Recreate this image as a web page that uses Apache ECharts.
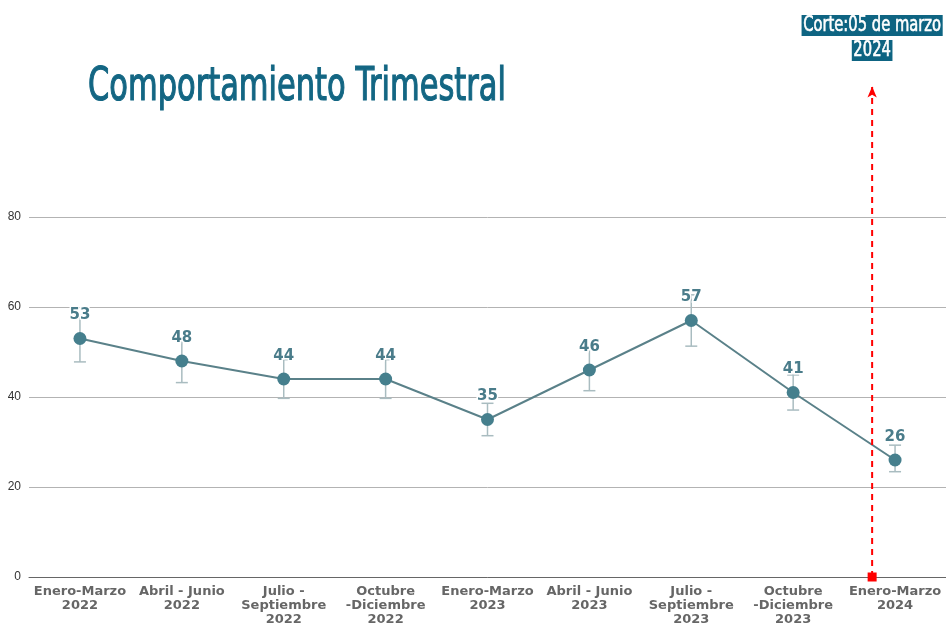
<!DOCTYPE html>
<html lang="es">
<head>
    <meta charset="UTF-8">
    <title>Comportamiento Trimestral</title>
    <script src="https://cdn.jsdelivr.net/npm/echarts@6.0.0/dist/echarts.min.js"></script>
    <style>
        body { margin: 0; background: #fff; }
        #chart { width: 946px; height: 625px; }
    </style>
</head>
<body>
    <div id="chart"></div>
    <script>
        // datos del gráfico
        const trimestres = [
            'Enero-Marzo\n2022', 'Abril - Junio\n2022', 'Julio -\nSeptiembre\n2022', 'Octubre\n-Diciembre\n2022',
            'Enero-Marzo\n2023', 'Abril - Junio\n2023', 'Julio -\nSeptiembre\n2023', 'Octubre\n-Diciembre\n2023',
            'Enero-Marzo\n2024'
        ];
        const valores = [53, 48, 44, 44, 35, 46, 57, 41, 26];
        const errorBajo = [47.8, 43.2, 39.7, 39.7, 31.4, 41.4, 51.3, 37.1, 23.4];
        const errorAlto = [58.2, 52.8, 48.3, 48.3, 38.6, 50.6, 62.7, 44.9, 29.3];
        const yTicks = [0, 20, 40, 60, 80];
        // línea de corte (posición en el eje de categorías)
        const corteX = 7.775;
        const corteY = [0, 109];
        const corteLineas = ['Corte:05 de marzo', '2024'];
        const titulo = 'Comportamiento Trimestral';

        const fuenteCond = '"DejaVu Sans Condensed", sans-serif';

        // ancho de texto para comprimir la fuente (simula una tipografía estrecha)
        function anchoTexto(txt, size, family) {
            const ctx = document.createElement('canvas').getContext('2d');
            ctx.font = size + 'px ' + family;
            return ctx.measureText(txt).width;
        }

        const chart = echarts.init(document.getElementById('chart'));

        const option = {
            animation: false,
            grid: { left: 29, right: 0, top: 217, bottom: 48, outerBoundsMode: 'none' },
            xAxis: [{
                type: 'category',
                data: trimestres,
                boundaryGap: true,
                axisLine: { lineStyle: { color: '#666', width: 1 } },
                axisTick: { show: false },
                axisLabel: {
                    interval: 0,
                    margin: 8,
                    fontFamily: '"DejaVu Sans", sans-serif',
                    fontWeight: 'bold',
                    fontSize: 13,
                    lineHeight: 14,
                    color: '#666'
                }
            }, {
                type: 'value',
                min: -0.5,
                max: 8.5,
                show: false
            }],
            yAxis: {
                type: 'value',
                min: yTicks[0],
                max: yTicks[yTicks.length - 1],
                interval: 20,
                axisLine: { show: false },
                axisTick: { show: false },
                axisLabel: {
                    margin: 8,
                    fontFamily: '"Liberation Sans", Arial, sans-serif',
                    fontSize: 12,
                    color: '#333'
                },
                splitLine: { lineStyle: { color: '#b3b3b3', width: 1 } }
            },
            series: [{
                type: 'custom',
                z: 1,
                data: valores.map((v, i) => [i, errorBajo[i], errorAlto[i]]),
                renderItem: (params, api) => {
                    const lo = api.coord([api.value(0), api.value(1)]);
                    const hi = api.coord([api.value(0), api.value(2)]);
                    const w = 6;
                    const st = { stroke: '#a9bcc0', lineWidth: 1.5 };
                    return {
                        type: 'group',
                        children: [
                            { type: 'line', shape: { x1: lo[0], y1: lo[1], x2: hi[0], y2: hi[1] }, style: st },
                            { type: 'line', shape: { x1: lo[0] - w, y1: lo[1], x2: lo[0] + w, y2: lo[1] }, style: st },
                            { type: 'line', shape: { x1: hi[0] - w, y1: hi[1], x2: hi[0] + w, y2: hi[1] }, style: st }
                        ]
                    };
                }
            }, {
                type: 'line',
                z: 3,
                data: valores,
                symbol: 'circle',
                symbolSize: 13,
                itemStyle: { color: '#457f8d' },
                lineStyle: { color: '#5a8189', width: 2 },
                label: {
                    show: true,
                    position: 'top',
                    distance: 9,
                    fontFamily: '"DejaVu Sans", sans-serif',
                    fontWeight: 'bold',
                    fontSize: 15,
                    color: '#4a7c8a',
                    textBorderColor: '#fff',
                    textBorderWidth: 3
                }
            }, {
                type: 'line',
                xAxisIndex: 1,
                z: 4,
                clip: false,
                data: [
                    { value: [corteX, corteY[0]], symbol: 'rect', symbolSize: 9 },
                    { value: [corteX, corteY[1]], symbol: 'arrow', symbolSize: [7, 11] }
                ],
                itemStyle: { color: '#ff0000' },
                lineStyle: { color: '#ff0000', width: 2, type: [6, 5] }
            }]
        };
        chart.setOption(option);

        // título y nota de corte con fuente comprimida
        const tituloSize = 46;
        const tituloEscala = 418 / anchoTexto(titulo, tituloSize, fuenteCond);
        const notaSize = 21;
        const notaEscala = 138 / anchoTexto(corteLineas[0], notaSize, fuenteCond);
        const xCorte = chart.convertToPixel({ xAxisIndex: 1 }, corteX);

        chart.setOption({
            graphic: [{
                type: 'text',
                x: 88,
                y: 88,
                scaleX: tituloEscala,
                style: {
                    text: titulo,
                    fontFamily: fuenteCond,
                    fontSize: tituloSize,
                    fill: '#136683',
                    stroke: '#136683',
                    lineWidth: 1.2,
                    verticalAlign: 'middle'
                }
            }, {
                type: 'text',
                x: xCorte,
                y: 13,
                scaleX: notaEscala,
                style: {
                    text: corteLineas.map(t => '{a|' + t + '}').join('\n'),
                    align: 'center',
                    verticalAlign: 'top',
                    rich: {
                        a: {
                            fontFamily: fuenteCond,
                            fontSize: notaSize,
                            lineHeight: 25,
                            fill: '#fff',
                            stroke: '#fff',
                            lineWidth: 0.6,
                            backgroundColor: '#0e6482',
                            padding: [0, 2]
                        }
                    }
                }
            }]
        });
    </script>
</body>
</html>
